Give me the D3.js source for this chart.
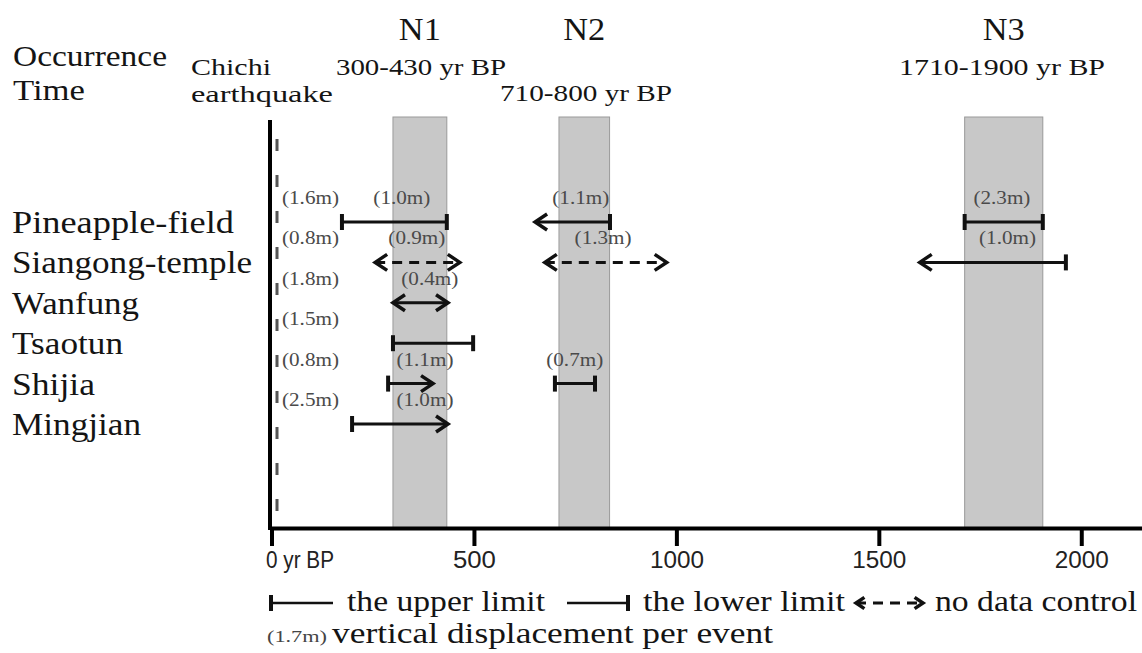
<!DOCTYPE html>
<html>
<head>
<meta charset="utf-8">
<script src="https://cdn.jsdelivr.net/npm/d3@7/dist/d3.min.js"></script>
<style>
  body { margin: 0; background: #fff; }
</style>
</head>
<body>
<div id="chart"></div>
<script>
// rows, top to bottom
var sites = ["Pineapple-field", "Siangong-temple", "Wanfung", "Tsaotun", "Shijia", "Mingjian"];
// Chichi earthquake vertical slip at each site
var chichiSlip = ["(1.6m)", "(0.8m)", "(1.8m)", "(1.5m)", "(0.8m)", "(2.5m)"];

// paleo events (yr BP)
var eventNames = ["N1", "N2", "N3"];
var eventLabels = ["300-430 yr BP", "710-800 yr BP", "1710-1900 yr BP"];
var eventFrom = [300, 710, 1712];
var eventTo = [433, 835, 1905];

// age constraints per site (yr BP)
var spanSite   = [0, 0, 0, 1, 1, 1, 2, 3, 4, 4, 5];
var spanFrom   = [174, 651, 1712, 256, 675, 1601, 300, 300, 288, 700, 199];
var spanTo     = [433, 836, 1905, 465, 976, 1962, 436, 498, 399, 799, 436];
var spanLeft   = ["cap", "arrow", "cap", "arrow", "arrow", "arrow", "arrow", "cap", "cap", "cap", "cap"];
var spanRight  = ["cap", "cap", "cap", "arrow", "arrow", "cap", "arrow", "cap", "arrow", "cap", "arrow"];
var spanDashed = [false, false, false, true, true, false, false, false, false, false, false];
var spanSlip   = ["(1.0m)", "(1.1m)", "(2.3m)", "(0.9m)", "(1.3m)", "(1.0m)", "(0.4m)", "", "(1.1m)", "(0.7m)", "(1.0m)"];
var spanSlipAt = [322, 764, 1804, 359, 819, 1818, 391, null, 379, 749, 379];

var xTicks = [0, 500, 1000, 1500, 2000];

var W = 1142, H = 653;
var serif = "'Times New Roman', 'Liberation Serif', Times, serif";
var narrow = "'Arial Narrow', 'Liberation Sans Narrow', 'Liberation Sans', Arial, sans-serif";

var svg = d3.select("#chart").append("svg")
    .attr("width", W)
    .attr("height", H);

var x = d3.scaleLinear().domain([0, 2150]).range([271.5, 1142]);
var y = d3.scalePoint().domain(sites).range([222, 424]);

// text helper, width forced to what the picture shows
function label(text, px, py, size, width, anchor, fill) {
    var t = svg.append("text")
        .attr("x", px)
        .attr("y", py)
        .attr("font-family", serif)
        .attr("font-size", size)
        .attr("fill", fill || "#141414")
        .attr("text-anchor", anchor || "start")
        .text(text);
    if (width) t.attr("textLength", width).attr("lengthAdjust", "spacingAndGlyphs");
    return t;
}

// end markers
function cap(g, px, py) {
    g.append("line")
        .attr("x1", px).attr("x2", px)
        .attr("y1", py - 8).attr("y2", py + 8)
        .attr("stroke", "#111").attr("stroke-width", 4);
}
function arrowHead(g, px, py, dir, s) {
    s = s || 1;
    g.append("path")
        .attr("d", "M" + (px + dir * 12 * s) + "," + (py - 8 * s) + "L" + px + "," + py + "L" + (px + dir * 12 * s) + "," + (py + 8 * s))
        .attr("fill", "none")
        .attr("stroke", "#111").attr("stroke-width", 3.5)
        .attr("stroke-linejoin", "miter");
}
function span(g, x1, x2, py, left, right, dashed, s) {
    g.append("line")
        .attr("x1", x1).attr("x2", x2)
        .attr("y1", py).attr("y2", py)
        .attr("stroke", "#111").attr("stroke-width", 3)
        .attr("stroke-dasharray", dashed ? "10,7" : null);
    if (left == "cap") cap(g, x1, py); else arrowHead(g, x1, py, 1, s);
    if (right == "cap") cap(g, x2, py); else arrowHead(g, x2, py, -1, s);
}

// event bands
svg.selectAll("rect.band")
    .data(eventNames)
    .enter()
    .append("rect")
    .attr("class", "band")
    .attr("x", function (d, i) { return x(eventFrom[i]); })
    .attr("width", function (d, i) { return x(eventTo[i]) - x(eventFrom[i]); })
    .attr("y", 117)
    .attr("height", 528 - 117)
    .attr("fill", "#c8c8c8")
    .attr("stroke", "#9a9a9a")
    .attr("stroke-width", 1);

// header
label("Occurrence", 13, 66, 29, 154);
label("Time", 13, 100, 29, 72);
label("Chichi", 191, 75, 24, 80);
label("earthquake", 191, 102, 24, 142);

eventNames.forEach(function (n, i) {
    var cx = x((eventFrom[i] + eventTo[i]) / 2);
    label(n, cx, 40, 31, 42, "middle");
});
label(eventLabels[0], 336, 75, 24, 170);
label(eventLabels[1], 500, 101, 24, 172);
label(eventLabels[2], 899, 75, 24, 206);

// site names
var siteWidth = [222, 240, 127, 111, 83, 129];
sites.forEach(function (s, i) {
    label(s, 12, y(s) + 11, 31, siteWidth[i]);
});

// Chichi earthquake column
svg.append("line")
    .attr("x1", 277).attr("x2", 277)
    .attr("y1", 139).attr("y2", 520)
    .attr("stroke", "#555").attr("stroke-width", 3)
    .attr("stroke-dasharray", "12,24");
sites.forEach(function (s, i) {
    label(chichiSlip[i], 282, y(s) - 18, 18, 57, "start", "#4a4a4a");
});

// constraints
var spans = svg.append("g");
spanSite.forEach(function (si, i) {
    var py = y(sites[si]);
    span(spans, x(spanFrom[i]), x(spanTo[i]), py, spanLeft[i], spanRight[i], spanDashed[i]);
    if (spanSlip[i]) {
        label(spanSlip[i], x(spanSlipAt[i]), py - 18, 18, 57, "middle", "#4a4a4a");
    }
});

// axes
svg.append("line")
    .attr("x1", 270).attr("x2", 270)
    .attr("y1", 120).attr("y2", 530)
    .attr("stroke", "#000").attr("stroke-width", 4);

var axis = d3.axisBottom(x)
    .tickValues(xTicks)
    .tickSize(18)
    .tickSizeOuter(0)
    .tickPadding(6)
    .tickFormat(function (d) { return d === 0 ? "0 yr BP" : d; });

var gx = svg.append("g")
    .attr("transform", "translate(0,528)")
    .call(axis);
gx.select(".domain").attr("stroke", "#000").attr("stroke-width", 4);
gx.selectAll(".tick line").attr("stroke", "#000").attr("stroke-width", 4);
gx.selectAll(".tick text")
    .attr("font-family", narrow)
    .attr("font-size", 23)
    .attr("fill", "#222")
    .attr("lengthAdjust", "spacingAndGlyphs")
    .attr("textLength", function (d) { return d === 0 ? 68 : (d < 1000 ? 43 : 54); })
    .attr("text-anchor", function (d) { return d === 0 ? "start" : "middle"; })
    .attr("x", function (d) { return d === 0 ? -6 : 0; });

// legend
var leg = svg.append("g");
leg.append("line").attr("x1", 271).attr("x2", 333).attr("y1", 603).attr("y2", 603)
    .attr("stroke", "#111").attr("stroke-width", 2.5);
cap(leg, 271, 603);
label("the upper limit", 347, 611, 29, 198);
leg.append("line").attr("x1", 567).attr("x2", 628).attr("y1", 603).attr("y2", 603)
    .attr("stroke", "#111").attr("stroke-width", 2.5);
cap(leg, 628, 603);
label("the lower limit", 643, 611, 29, 202);
span(leg, 856, 923, 603, "arrow", "arrow", true, 0.7);
label("no data control", 935, 611, 29, 202);

label("(1.7m)", 267, 642, 17, 60, "start", "#444");
label("vertical displacement per event", 332, 643, 29, 441);
</script>
</body>
</html>
